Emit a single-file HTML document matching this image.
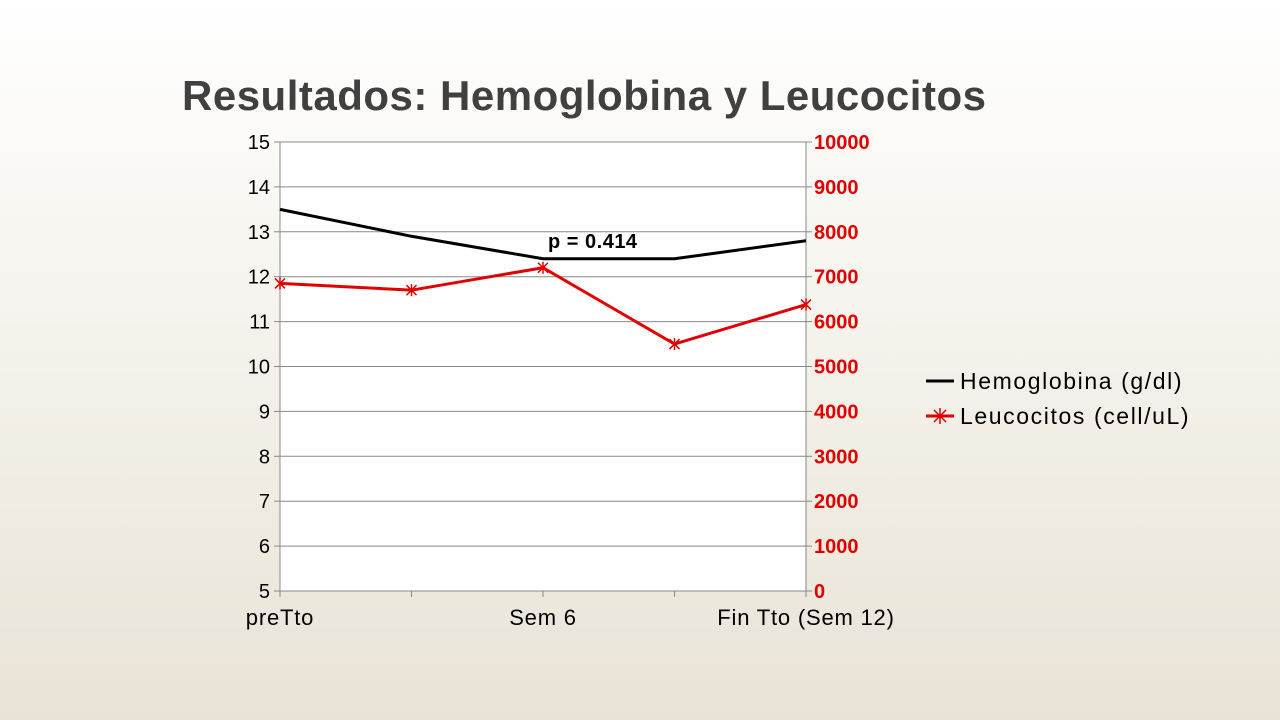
<!DOCTYPE html>
<html><head><meta charset="utf-8"><style>
body{margin:0;width:1280px;height:720px;overflow:hidden;background:linear-gradient(#ffffff 0%,#f6f4ee 40%,#e8e3d6 100%);font-family:"Liberation Sans",sans-serif}
</style></head><body>
<svg width="1280" height="720" style="position:absolute;left:0;top:0">
<text x="182" y="110" font-size="42" font-weight="bold" fill="#404040" letter-spacing="0.5">Resultados: Hemoglobina y Leucocitos</text>
<rect x="280" y="142" width="526" height="449" fill="#fff"/>
<g id="grid"></g><g id="axes"></g><g id="series"></g>
<text x="548" y="248" font-size="20" font-weight="bold" fill="#000" letter-spacing="0.5">p = 0.414</text>
<g>
<line x1="926" y1="381" x2="954" y2="381" stroke="#000" stroke-width="3"/>
<text x="960" y="389" font-size="23" fill="#000" letter-spacing="1.6">Hemoglobina (g/dl)</text>
<line x1="926" y1="416" x2="954" y2="416" stroke="#e00000" stroke-width="3"/>
<path d="M934 410 L946 422 M946 410 L934 422 M940 408 L940 424" stroke="#e00000" stroke-width="1.5"/>
<text x="960" y="424" font-size="23" fill="#000" letter-spacing="1.6">Leucocitos (cell/uL)</text>
</g>
</svg>
<script>
const categories=["preTto","","Sem 6","","Fin Tto (Sem 12)"];
const hemo=[13.5,12.9,12.4,12.4,12.8];
const leuco=[6850,6700,7200,5500,6380];
const leftTicks=[5,6,7,8,9,10,11,12,13,14,15];
const rightTicks=[0,1000,2000,3000,4000,5000,6000,7000,8000,9000,10000];
const X0=280,X1=806,Y0=591,Y1=142,NS="http://www.w3.org/2000/svg";
const xs=i=>X0+i*(X1-X0)/(categories.length-1);
const yl=v=>Y0-(v-5)/10*(Y0-Y1);
const yr=v=>Y0-v/10000*(Y0-Y1);
function mk(t,a,p){const e=document.createElementNS(NS,t);for(const k in a)e.setAttribute(k,a[k]);document.getElementById(p).appendChild(e);return e;}
leftTicks.forEach((v,i)=>{const y=yl(v);
const g=mk('line',{x1:X0,x2:X1,y1:y,y2:y,stroke:'#888','stroke-width':1},'grid');


const t=mk('text',{x:270,y:y+7,'font-size':20,'text-anchor':'end',fill:'#000'},'axes');t.textContent=v;


mk('line',{x1:274,x2:X0,y1:y,y2:y,stroke:'#888'},'axes');});
rightTicks.forEach(v=>{const y=yr(v);
const t=mk('text',{x:814,y:y+7,'font-size':20,'font-weight':'bold',fill:'#e00000'},'axes');t.textContent=v;


mk('line',{x1:X1,x2:X1+6,y1:y,y2:y,stroke:'#888'},'axes');});
mk('line',{x1:X0,x2:X0,y1:Y1,y2:Y0,stroke:'#888'},'axes');
mk('line',{x1:X1,x2:X1,y1:Y1,y2:Y0,stroke:'#888'},'axes');
categories.forEach((c,i)=>{const x=xs(i);mk('line',{x1:x,x2:x,y1:Y0,y2:Y0+6,stroke:'#888'},'axes');
if(c){const t=mk('text',{x:x,y:625,'font-size':22,'text-anchor':'middle',fill:'#000','letter-spacing':0.8},'axes');t.textContent=c;

}});
const hl=mk('polyline',{points:hemo.map((v,i)=>xs(i)+','+yl(v)).join(' '),fill:'none',stroke:'#000','stroke-width':3},'series');


const ll=mk('polyline',{points:leuco.map((v,i)=>xs(i)+','+yr(v)).join(' '),fill:'none',stroke:'#e00000','stroke-width':3},'series');


leuco.forEach((v,i)=>{const x=xs(i),y=yr(v);
const m=mk('path',{d:`M${x-5} ${y-5}L${x+5} ${y+5}M${x+5} ${y-5}L${x-5} ${y+5}M${x} ${y-6}L${x} ${y+6}`,stroke:'#e00000','stroke-width':1.5},'series');

});
</script>
</body></html>
